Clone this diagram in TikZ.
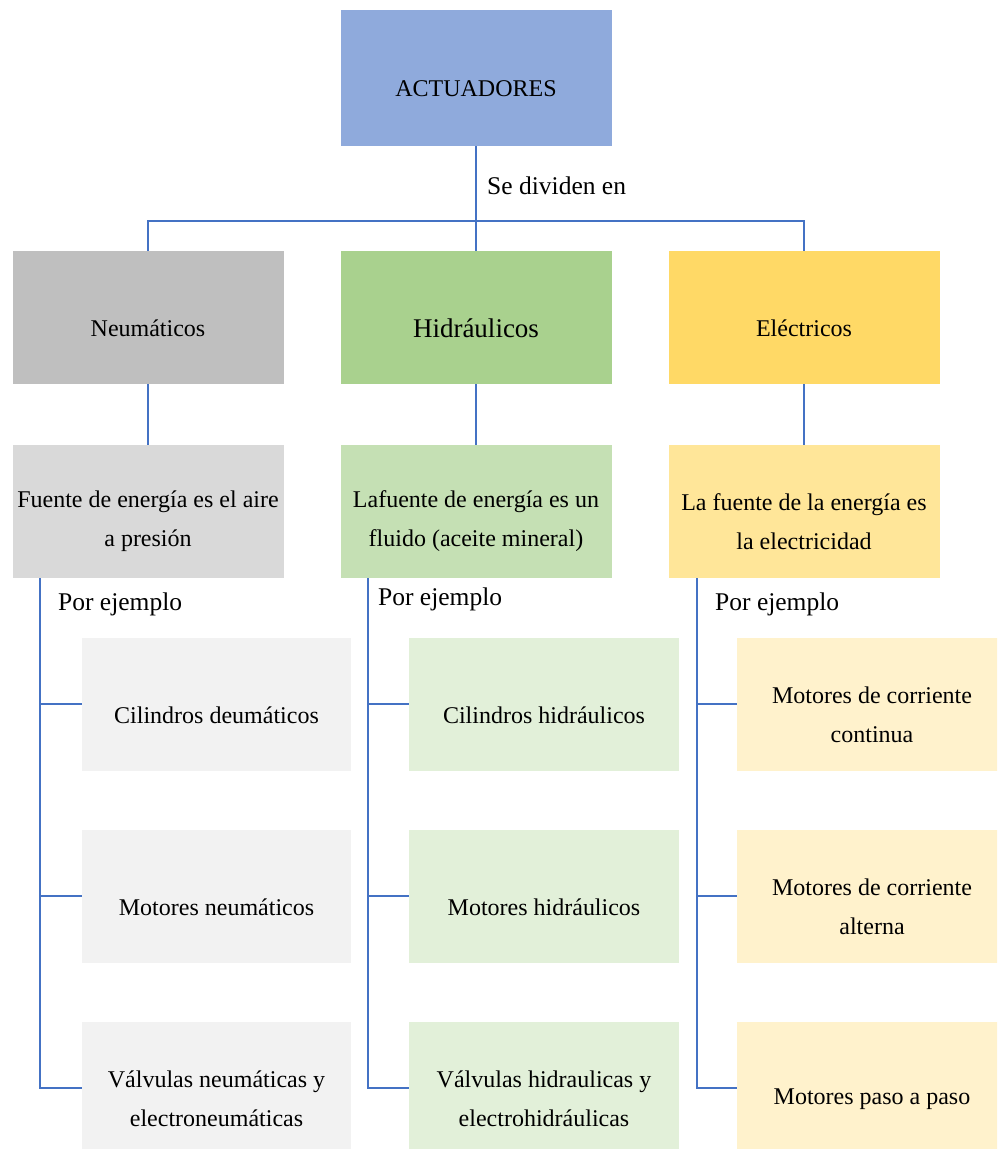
\documentclass[tikz,border=0pt]{standalone}
\usepackage{fontspec}
\setmainfont{Liberation Serif}
\definecolor{topblue}{HTML}{8FAADC}
\definecolor{lineblue}{HTML}{4472C4}
\definecolor{gA}{HTML}{BFBFBF}
\definecolor{gB}{HTML}{D9D9D9}
\definecolor{gC}{HTML}{F2F2F2}
\definecolor{hA}{HTML}{A9D18E}
\definecolor{hB}{HTML}{C5E0B4}
\definecolor{hC}{HTML}{E2F0D9}
\definecolor{eA}{HTML}{FFD966}
\definecolor{eB}{HTML}{FFE699}
\definecolor{eC}{HTML}{FFF2CC}
\begin{document}
\begin{tikzpicture}[x=1pt,y=-1pt,
  box/.style={rectangle, draw=none, inner sep=0pt, minimum width=271pt, minimum height=133pt},
  txt/.style={align=center, font=\fontsize{24}{39}\selectfont, text=black, inner sep=0pt},
  lab/.style={anchor=west, font=\fontsize{25.5}{30}\selectfont, inner sep=0pt},
  conn/.style={draw=lineblue, line width=2pt}]
\path[use as bounding box, clip] (0,0) rectangle (997,1149);
% level 1
\node[box, fill=topblue, minimum height=136pt, label={[txt,yshift=-11pt]center:ACTUADORES}] (act) at (476,78) {};
% level 2
\node[box, fill=gA, label={[txt,yshift=-11pt]center:Neumáticos}] (neu) at (148,317.5) {};
\node[box, fill=hA, label={[txt,font=\fontsize{27}{39}\selectfont,yshift=-11pt]center:Hidráulicos}] (hid) at (476,317.5) {};
\node[box, fill=eA, label={[txt,yshift=-11pt]center:Eléctricos}] (ele) at (804,317.5) {};
% level 3
\node[box, fill=gB, label={[txt,yshift=-10pt]center:{Fuente de energía es el aire\\a presión}}] (neuf) at (148,511.5) {};
\node[box, fill=hB, label={[txt,yshift=-10pt]center:{Lafuente de energía es un\\fluido (aceite mineral)}}] (hidf) at (476,511.5) {};
\node[box, fill=eB, label={[txt,yshift=-10pt]center:{La fuente de la energía es\\la electricidad}}] (elef) at (804,511.5) {};
% level 4 gray
\node[box, fill=gC, minimum width=269pt, label={[txt,yshift=-11pt]center:Cilindros deumáticos}] (n1) at (216.5,704) {};
\node[box, fill=gC, minimum width=269pt, label={[txt,yshift=-11pt]center:Motores neumáticos}] (n2) at (216.5,896) {};
\node[box, fill=gC, minimum width=269pt, label={[txt,yshift=-11pt]center:{Válvulas neumáticas y\\electroneumáticas}}] (n3) at (216.5,1088) {};
% level 4 green
\node[box, fill=hC, minimum width=270pt, label={[txt,yshift=-11pt]center:Cilindros hidráulicos}] (h1) at (544,704) {};
\node[box, fill=hC, minimum width=270pt, label={[txt,yshift=-11pt]center:Motores hidráulicos}] (h2) at (544,896) {};
\node[box, fill=hC, minimum width=270pt, label={[txt,yshift=-11pt]center:{Válvulas hidraulicas y\\electrohidráulicas}}] (h3) at (544,1088) {};
% level 4 yellow
\node[box, fill=eC, minimum width=270pt, label={[txt,yshift=-11pt]center:{Motores de corriente\\continua}}] (e1) at (872,704) {};
\node[box, fill=eC, minimum width=270pt, label={[txt,yshift=-11pt]center:{Motores de corriente\\alterna}}] (e2) at (872,896) {};
\node[box, fill=eC, minimum width=270pt, label={[txt,yshift=-11pt]center:Motores paso a paso}] (e3) at (872,1088) {};
% labels
\node[lab] (sdiv) at (487,186) {Se dividen en};
\node[lab] (pe1) at (58,604) {Por ejemplo};
\node[lab] (pe2) at (378,599) {Por ejemplo};
\node[lab] (pe3) at (715,604) {Por ejemplo};
% connectors
\coordinate (bus) at (476,221);
\draw[conn] (act.south) -- (hid.north);
\draw[conn] (neu.north) |- (bus) -| (ele.north);
\draw[conn] (neu.south) -- (neuf.north);
\draw[conn] (hid.south) -- (hidf.north);
\draw[conn] (ele.south) -- (elef.north);
\coordinate (ns) at (40,578);
\coordinate (hs) at (368,578);
\coordinate (es) at (697,578);
\draw[conn] (ns) |- (n1.west);
\draw[conn] (ns) |- (n2.west);
\draw[conn] (ns) |- (n3.west);
\draw[conn] (hs) |- (h1.west);
\draw[conn] (hs) |- (h2.west);
\draw[conn] (hs) |- (h3.west);
\draw[conn] (es) |- (e1.west);
\draw[conn] (es) |- (e2.west);
\draw[conn] (es) |- (e3.west);
\end{tikzpicture}
\end{document}
